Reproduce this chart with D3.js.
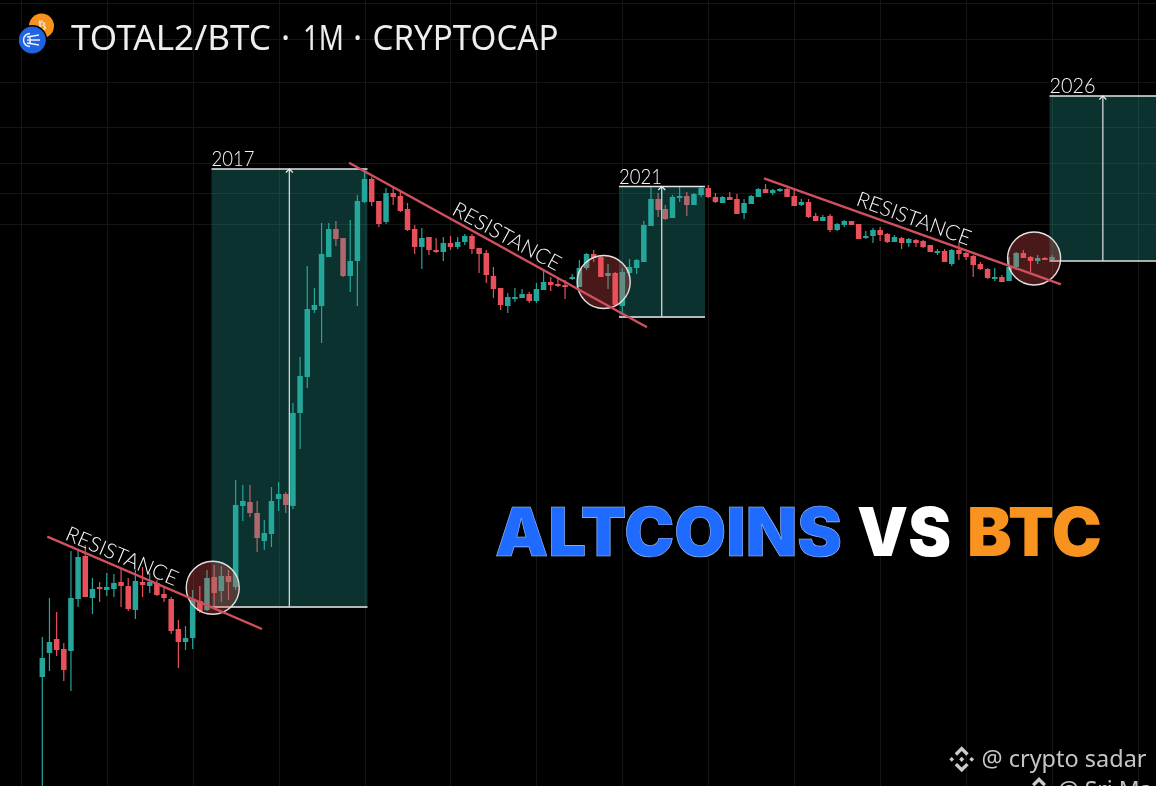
<!DOCTYPE html>
<html><head><meta charset="utf-8">
<script src="https://cdn.jsdelivr.net/npm/d3@7/dist/d3.min.js"></script>
<style>html,body{margin:0;padding:0;background:#000;overflow:hidden}svg{display:block;filter:blur(.45px)}</style>
</head><body><div id="c"></div>
<script>
const titleParts=["TOTAL2/BTC","·","1M","·","CRYPTOCAP"];
const opens=[109,133,147,137,135,187,230,188,199,196,197,204,200,176,204,200,203,192,187,157,144,148,185,176,209,195,210,199,280,284,273,245,252,287,292,280,373,409,476,480,529,557,548,510,525,584,607,585,564,593,590,577,557,539,549,536,534,543,539,544,550,538,533,510,498,480,488,488,492,485,496,504,502,501,507,499,518,532,529,510,513,480,513,518,524,560,587,577,568,589,590,581,591,598,589,583,589,587,573,582,589,597,593,595,597,590,581,584,570,565,570,556,561,565,562,548,550,556,552,544,548,543,546,545,541,534,535,522,536,533,530,522,517,507,509,505,519,533,529,525,528,526];
const highs=[149,188,174,143,235,235,241,208,204,213,212,217,208,216,219,213,206,199,189,166,160,196,200,216,221,220,216,306,301,301,285,266,299,304,294,383,429,520,498,563,563,565,548,566,591,616,609,585,598,599,596,583,561,558,549,548,549,550,549,552,552,538,536,519,498,493,498,497,494,503,517,509,509,506,512,526,533,536,530,522,514,518,527,527,565,599,593,581,591,599,594,593,599,601,593,590,594,592,587,591,598,602,597,598,598,596,587,587,573,571,572,563,566,565,562,555,558,559,553,551,549,548,547,546,541,537,537,537,543,534,531,524,518,518,511,529,534,536,530,531,529,531];
const lows=[0,115,130,105,95,179,189,172,184,190,189,179,175,167,189,193,190,184,152,118,136,137,173,175,178,184,186,196,265,269,234,236,239,275,273,277,337,398,473,443,529,540,509,494,480,583,580,559,562,581,574,555,532,517,531,533,525,536,537,541,532,513,503,488,476,473,484,488,483,483,496,495,499,487,506,499,516,524,509,497,480,471,509,512,524,560,569,566,568,584,570,581,589,588,583,583,586,572,567,582,589,593,591,594,589,580,580,568,565,565,554,555,559,561,547,547,543,545,543,544,537,539,539,538,534,531,524,520,526,526,509,516,507,505,504,505,516,528,514,522,526,525];
const closes=[128,144,136,116,188,229,189,197,197,199,203,200,177,205,201,204,191,188,155,144,148,186,175,208,193,210,204,281,285,273,248,253,285,292,281,373,410,477,481,532,557,547,510,525,585,607,584,562,593,589,575,556,539,548,536,534,543,539,544,550,537,532,511,497,481,489,489,492,485,497,504,501,501,500,509,518,532,528,509,513,481,514,519,526,561,587,576,567,589,590,581,592,598,589,584,589,586,572,583,590,597,593,596,597,589,580,584,569,565,569,556,562,565,561,547,550,556,551,544,549,543,547,543,539,534,535,524,536,532,529,521,517,508,509,504,519,533,528,525,528,527,529];
const gridXIndex=[-3,9,21,33,45,57,69,81,93,105,117,129,141,153];
const gridYValues=[783,747,704,659,623,593,562];
const boxStart=[23.63,80.53,140.65];
const boxEnd=[45.41,92.54,156];
const boxTop=[617,599.5,690];
const boxBottom=[179,469,525];
const boxArrow=[34.5,86.5,148.1];
const boxLabels=["2017","2021","2026"];
const boxLabelLen=[43,43,46];
const lineX1=[0.70,42.83,100.78];
const lineY1=[249.3,623.3,607.7];
const lineX2=[30.68,84.44,142.25];
const lineY2=[157,458.7,501.7];
const circleX=[23.8,78.4,138.5];
const circleY=[198.3,504,527.5];
const circleR=[26.5,26.5,26.5];
const resistanceX=[3.03,57.04,113.5];
const resistanceY=[246.7,572,581];
const resistanceAngle=[23,28.6,19.8];
const headlineWords=["ALTCOINS","VS","BTC"];
const headlineColors=["#1f6bff","#ffffff","#f7931e"];
const UP="#26a69a",DOWN="#e8505b",W=1156,H=786;

const x=d3.scaleLinear().domain([0,141]).range([42.3,1052]);
const y=d3.scaleLinear().domain([0,786]).range([786,0]);
const svg=d3.select("#c").append("svg").attr("width",W).attr("height",H).attr("viewBox",`0 0 ${W} ${H}`);
svg.append("rect").attr("width",W).attr("height",H).attr("fill","#000");

const grid=svg.append("g").attr("stroke","#141616").attr("stroke-width",1);
grid.selectAll("line.v").data(gridXIndex).join("line").attr("class","v")
  .attr("x1",d=>Math.round(x(d))+.5).attr("x2",d=>Math.round(x(d))+.5).attr("y1",0).attr("y2",H);
grid.selectAll("line.h").data(gridYValues).join("line").attr("class","h")
  .attr("x1",0).attr("x2",W).attr("y1",d=>y(d)+.5).attr("y2",d=>y(d)+.5);

const candles=d3.range(opens.length).map(i=>({i,o:opens[i],h:highs[i],l:lows[i],c:closes[i]}));
const isUp=d=>d.c>=d.o;
const cg=svg.append("g");
cg.selectAll("line").data(candles).join("line")
  .attr("x1",d=>x(d.i)).attr("x2",d=>x(d.i)).attr("y1",d=>y(d.h)).attr("y2",d=>y(d.l))
  .attr("stroke",d=>isUp(d)?UP:DOWN).attr("stroke-width",1.2);
cg.selectAll("rect").data(candles).join("rect")
  .attr("x",d=>x(d.i)-2.75).attr("width",5.5)
  .attr("y",d=>y(Math.max(d.o,d.c))).attr("height",d=>Math.max(2,Math.abs(y(d.o)-y(d.c))))
  .attr("fill",d=>isUp(d)?UP:DOWN);

const boxes=boxLabels.map((t,k)=>({t,k}));
const bg=svg.append("g");
bg.selectAll("rect").data(boxes).join("rect")
  .attr("x",d=>x(boxStart[d.k])).attr("width",d=>x(boxEnd[d.k])-x(boxStart[d.k]))
  .attr("y",d=>y(boxTop[d.k])).attr("height",d=>y(boxBottom[d.k])-y(boxTop[d.k]))
  .attr("fill","#26a69a").attr("fill-opacity",.3);
bg.selectAll("line.top").data(boxes).join("line").attr("class","top")
  .attr("x1",d=>x(boxStart[d.k])).attr("x2",d=>x(boxEnd[d.k])).attr("y1",d=>y(boxTop[d.k])).attr("y2",d=>y(boxTop[d.k]))
  .attr("stroke","#e4e6e6").attr("stroke-width",1.4);
bg.selectAll("line.bot").data(boxes).join("line").attr("class","bot")
  .attr("x1",d=>x(boxStart[d.k])).attr("x2",d=>x(boxEnd[d.k])).attr("y1",d=>y(boxBottom[d.k])).attr("y2",d=>y(boxBottom[d.k]))
  .attr("stroke",d=>d.k==2?"#dfe2e2":"#b4b8b8").attr("stroke-width",d=>d.k==2?1.4:1.8);
bg.selectAll("line.mid").data(boxes).join("line").attr("class","mid")
  .attr("x1",d=>x(boxArrow[d.k])).attr("x2",d=>x(boxArrow[d.k])).attr("y1",d=>y(boxTop[d.k])).attr("y2",d=>y(boxBottom[d.k]))
  .attr("stroke","#d4d8d8").attr("stroke-width",1.3);
bg.selectAll("path").data(boxes).join("path")
  .attr("d",d=>{const a=x(boxArrow[d.k]),b=y(boxTop[d.k]);return `M${a-3.5},${b+3.5}L${a},${b}L${a+3.5},${b+3.5}`;})
  .attr("fill","none").attr("stroke","#f0f0f0").attr("stroke-width",1.2);
bg.selectAll("text").data(boxes).join("text")
  .attr("x",d=>x(boxStart[d.k])).attr("y",d=>y(boxTop[d.k])-2.6)
  .attr("font-family","Lato").attr("font-weight",300).attr("font-size",21)
  .attr("textLength",d=>boxLabelLen[d.k]).attr("lengthAdjust","spacingAndGlyphs")
  .attr("fill","#f6f6f6").text(d=>d.t);

svg.append("g").selectAll("circle").data(circleX).join("circle")
  .attr("cx",d=>x(d)).attr("cy",(d,i)=>y(circleY[i])).attr("r",(d,i)=>circleR[i])
  .attr("fill","#ef5350").attr("fill-opacity",.3).attr("stroke","#e4e0e0").attr("stroke-width",1.4);

svg.append("g").selectAll("line").data(lineX1).join("line")
  .attr("x1",d=>x(d)).attr("y1",(d,i)=>y(lineY1[i])).attr("x2",(d,i)=>x(lineX2[i])).attr("y2",(d,i)=>y(lineY2[i]))
  .attr("stroke","#d0505f").attr("stroke-width",2.4);

svg.append("g").selectAll("text").data(resistanceX).join("text")
  .attr("transform",(d,i)=>`translate(${x(d)},${y(resistanceY[i])}) rotate(${resistanceAngle[i]})`)
  .attr("font-family","Lato").attr("font-weight",300).attr("font-size",21)
  .attr("textLength",120).attr("lengthAdjust","spacingAndGlyphs")
  .attr("fill","#f8f8f8").text("RESISTANCE");

// title + icons
const titleX=[71,285.5,303,357.5,372.5],titleLen=[200,null,41,null,186];
svg.append("g").selectAll("text").data(titleParts).join("text")
  .attr("x",(d,i)=>titleX[i]).attr("y",50).attr("font-family","Noto Sans").attr("font-size",34)
  .attr("text-anchor",(d,i)=>titleLen[i]?"start":"middle")
  .attr("textLength",(d,i)=>titleLen[i]).attr("lengthAdjust","spacingAndGlyphs")
  .attr("fill","#eeeeee").text(d=>d);
svg.append("circle").attr("cx",41.5).attr("cy",26).attr("r",12.5).attr("fill","#f7931a");
svg.append("text").attr("x",42).attr("y",30).attr("text-anchor","middle").attr("font-family","DejaVu Sans").attr("font-weight",700).attr("font-size",13).attr("fill","#f8dcb8").text("₿");
svg.append("circle").attr("cx",32.3).attr("cy",40).attr("r",15).attr("fill","#000");
svg.append("circle").attr("cx",32.3).attr("cy",40).attr("r",13.5).attr("fill","#1f63e0");
svg.append("path").attr("d","M30,33.5A6.5,6.5 0 1 0 30,46.5M27,37L39,35M27,40L40,40M27,43L39,45M30,37v6")
  .attr("fill","none").attr("stroke","#e8f0ff").attr("stroke-width",1.5);

// headline
const headX=[495,857,967],headLen=[347,94,135];
svg.append("g").selectAll("text").data(headlineWords).join("text")
  .attr("x",(d,i)=>headX[i]).attr("y",555.5)
  .attr("font-family","Inter").attr("font-weight",900).attr("font-size",67)
  .attr("textLength",(d,i)=>headLen[i]).attr("lengthAdjust","spacingAndGlyphs")
  .attr("fill",(d,i)=>headlineColors[i]).attr("stroke",(d,i)=>i==0?"#9cc0ff":"none").attr("stroke-width",.6).text(d=>d);

// watermarks
function binance(cx,cy){
  const g=svg.append("g").attr("transform",`translate(${cx},${cy})`).attr("fill","#c9cccc");
  g.append("path").attr("d","M0,-13L7,-6L4.6,-3.6L0,-8.2L-4.6,-3.6L-7,-6Z");
  g.append("path").attr("d","M0,13L7,6L4.6,3.6L0,8.2L-4.6,3.6L-7,6Z");
  g.append("path").attr("d","M0,-2.6L2.6,0L0,2.6L-2.6,0Z");
  g.append("path").attr("d","M-10,-2.4L-7.6,0L-10,2.4L-12.4,0Z");
  g.append("path").attr("d","M10,-2.4L12.4,0L10,2.4L7.6,0Z");
}
binance(961.7,759.3);binance(1039,790);
svg.append("text").attr("x",981.5).attr("y",767.3).attr("font-family","Noto Sans").attr("font-size",23)
  .attr("textLength",165).attr("lengthAdjust","spacingAndGlyphs").attr("fill","#c4c6c6").text("@ crypto sadar");
svg.append("text").attr("x",1058).attr("y",798).attr("font-family","Noto Sans").attr("font-size",23)
  .attr("fill","#c4c6c6").text("@ Sri Ma");
</script></body></html>
